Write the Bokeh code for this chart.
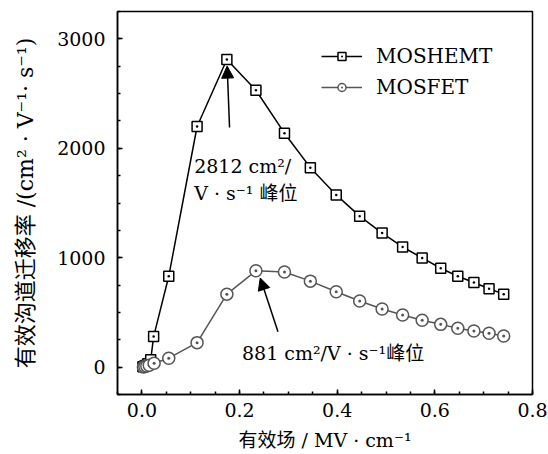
from bokeh.plotting import figure
from bokeh.models import (Range1d, FixedTicker, Legend, LegendItem, Arrow, NormalHead,
                          NumeralTickFormatter)
from bokeh.core.properties import value
from bokeh.embed import file_html
from bokeh.resources import INLINE

# ---------------- data ----------------
moshemt_field = [0.002, 0.005, 0.008, 0.012, 0.018, 0.024, 0.055, 0.113, 0.174, 0.2335,
                 0.292, 0.345, 0.398, 0.446, 0.492, 0.534, 0.574, 0.612, 0.647, 0.680,
                 0.711, 0.741]
moshemt_mob = [3, 8, 15, 30, 67, 279, 831, 2199, 2812, 2530,
               2138, 1823, 1574, 1380, 1225, 1098, 998, 904, 831, 773,
               716, 667]

mosfet_field = [0.003, 0.006, 0.010, 0.015, 0.025, 0.055, 0.113, 0.174, 0.2335,
                0.292, 0.345, 0.398, 0.446, 0.492, 0.534, 0.574, 0.612, 0.647, 0.680,
                0.711, 0.741]
mosfet_mob = [2, 5, 10, 18, 36, 82, 224, 667, 881,
              870, 786, 689, 604, 531, 476, 428, 391, 355, 331,
              309, 285]

x_ticks = [0.0, 0.2, 0.4, 0.6, 0.8]
y_ticks = [0, 1000, 2000, 3000]

series_names = ["MOSHEMT", "MOSFET"]
x_label = "有效场 / MV · cm⁻¹"
y_label = "有效沟道迁移率 /(cm² · V⁻¹· s⁻¹)"

note_hemt_lines = ["2812 cm²/", "V · s⁻¹ 峰位"]
note_fet_text = "881 cm²/V · s⁻¹峰位"

# annotation placement (data coords)
arrow_hemt = dict(x_start=0.1795, y_start=2190, x_end=0.1746, y_end=2751)
arrow_fet = dict(x_start=0.2787, y_start=324, x_end=0.2424, y_end=815)
note_hemt_pos = dict(x=[0.107, 0.107], y=[1835, 1590])
note_fet_pos = dict(x=[0.205], y=[130])

FONT = "'DejaVu Serif', 'Noto Sans CJK SC', serif"
GRAY = "#555555"

p = figure(width=548, height=454, output_backend="svg", toolbar_location=None,
           x_range=Range1d(-0.05, 0.8), y_range=Range1d(-250, 3250),
           min_border_left=117, min_border_right=16, min_border_top=11,
           min_border_bottom=60)
p.background_fill_color = "white"
p.border_fill_color = "white"
p.outline_line_color = "black"
p.outline_line_width = 1.5
p.grid.visible = False

# lines + markers
l1 = p.line(moshemt_field, moshemt_mob, line_color="black", line_width=1.5)
s1 = p.scatter(moshemt_field, moshemt_mob, marker="square_dot", size=10,
               fill_color="white", line_color="black", line_width=1.5)
l2 = p.line(mosfet_field, mosfet_mob, line_color=GRAY, line_width=1.5)
s2 = p.scatter(mosfet_field, mosfet_mob, marker="circle_dot", size=12,
               fill_color="white", line_color=GRAY, line_width=1.5)

# arrows
for a in (arrow_hemt, arrow_fet):
    p.add_layout(Arrow(end=NormalHead(size=12, fill_color="black", line_color="black"),
                       line_color="black", line_width=1.5, **a))

# annotation texts
p.text(x=note_hemt_pos["x"], y=note_hemt_pos["y"], text=note_hemt_lines,
       text_font=value(FONT), text_font_size="19px", text_color="black",
       text_baseline="middle", text_align="left")
p.text(x=note_fet_pos["x"], y=note_fet_pos["y"], text=[note_fet_text],
       text_font=value(FONT), text_font_size="19px", text_color="black",
       text_baseline="middle", text_align="left")

# axes
p.xaxis.ticker = FixedTicker(ticks=x_ticks,
                             minor_ticks=[i * 0.05 for i in range(-1, 17)])
p.yaxis.ticker = FixedTicker(ticks=y_ticks,
                             minor_ticks=[i * 250 for i in range(-1, 14)])
p.xaxis.formatter = NumeralTickFormatter(format="0.0")
for ax in (p.xaxis[0], p.yaxis[0]):
    ax.axis_line_color = "black"
    ax.axis_line_width = 1.5
    ax.major_tick_in = 5
    ax.major_tick_out = 0
    ax.minor_tick_in = 3
    ax.minor_tick_out = 0
    ax.major_tick_line_width = 1.5
    ax.minor_tick_line_width = 1.5
    ax.major_label_text_font = FONT
    ax.major_label_text_font_size = "19px"
    ax.major_label_text_color = "black"
    ax.axis_label_text_font = FONT
    ax.axis_label_text_font_style = "normal"
    ax.axis_label_text_color = "black"

p.xaxis.axis_label = x_label
p.xaxis.axis_label_text_font_size = "19px"
p.xaxis.major_label_standoff = 8
p.xaxis.axis_label_standoff = 9
p.yaxis.axis_label = y_label
p.yaxis.axis_label_text_font_size = "22px"
p.yaxis.major_label_standoff = 12
p.yaxis.axis_label_standoff = 16

legend = Legend(items=[LegendItem(label=series_names[0], renderers=[l1, s1]),
                       LegendItem(label=series_names[1], renderers=[l2, s2])],
                location=(204, 295), orientation="vertical",
                glyph_width=41, glyph_height=20, label_height=20, spacing=7,
                label_standoff=14, padding=0, margin=0,
                border_line_alpha=0, background_fill_alpha=0,
                label_text_font=FONT, label_text_font_size="20px",
                label_text_color="black")
p.add_layout(legend)

open("out.html", "w").write(file_html(p, INLINE))
